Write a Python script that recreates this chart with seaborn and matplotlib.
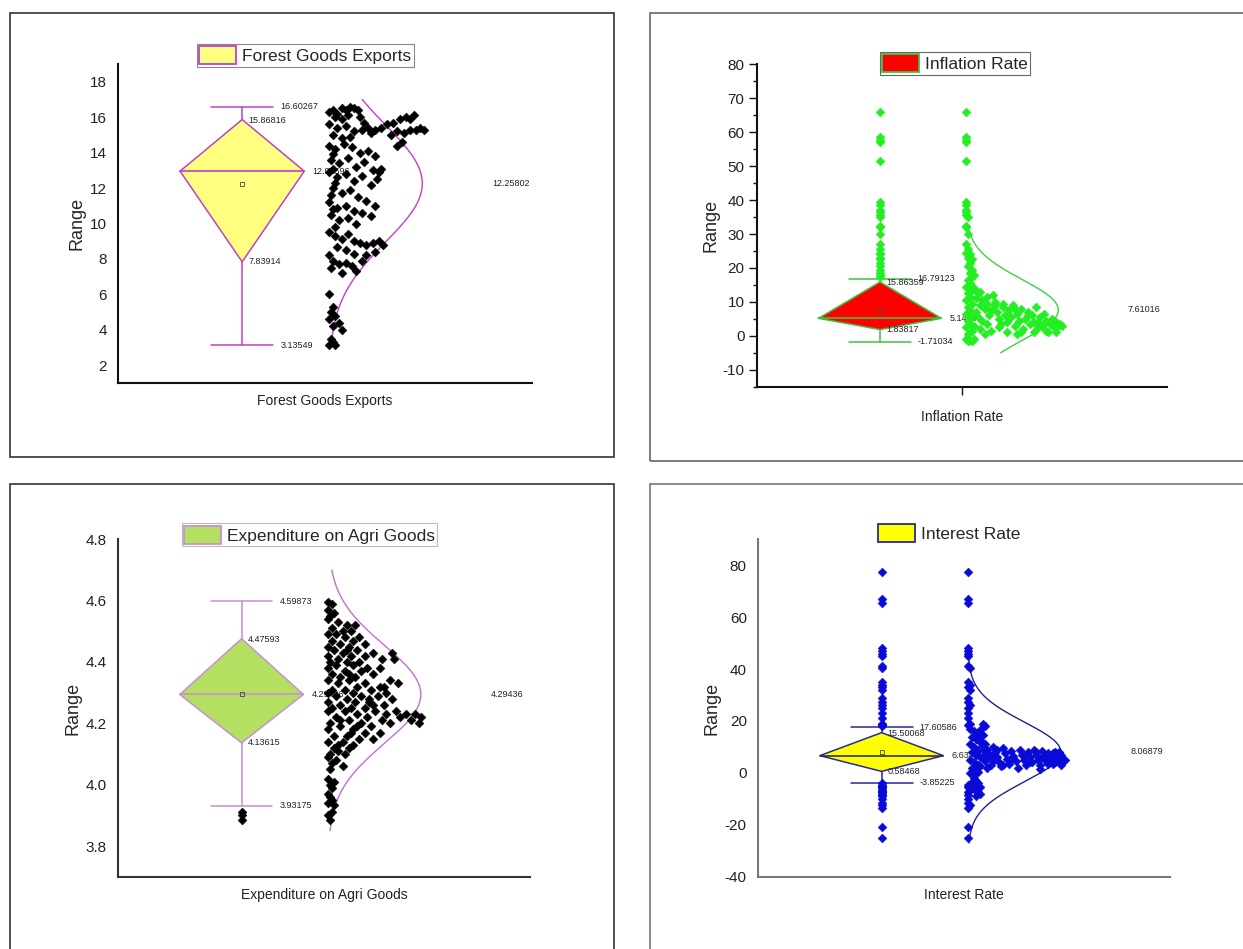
import numpy as np
import pandas as pd
import matplotlib.pyplot as plt
from matplotlib.patches import Patch, Rectangle
from matplotlib.ticker import MultipleLocator, FormatStrFormatter
import seaborn as sns

sns.set_theme(style="white")
plt.rcParams["font.family"] = ["Liberation Sans", "DejaVu Sans"]

# =========================================================
# Data
# =========================================================
names = ["Forest Goods Exports", "Inflation Rate", "Expenditure on Agri Goods", "Interest Rate"]

# lower whisker, Q1, median, Q3, upper whisker
forest_box = [3.13549, 7.83914, 12.95596, 15.86816, 16.60267]
inflation_box = [-1.71034, 1.83817, 5.14437, 15.86359, 16.79123]
agri_box = [3.93175, 4.13615, 4.29406, 4.47593, 4.59873]
interest_box = [-3.85225, 0.58468, 6.63427, 15.50068, 17.60586]

means = [12.25802, 7.61016, 4.29436, 8.06879]
sds = [3.3, 9.0, 0.16, 11.5]
curve_lo = [3.1, -5.0, 3.85, -27.0]
curve_hi = [17.0, 31.5, 4.70, 43.5]

# data points: value and horizontal spread of each point in the cloud
forest_vals = [
    16.3, 16.4, 16.2, 16.5, 16.4, 16.6, 16.5, 16.4, 16.0, 15.9, 16.1, 16.0, 15.7, 15.6, 15.4, 15.5, 15.2, 15.0, 14.8, 14.9, 15.3, 15.4,
    15.1, 15.3, 15.4, 15.6, 15.7, 15.9, 16.0, 15.9, 16.1,
    15.0, 15.2, 15.1, 15.3, 15.3, 15.4, 15.3, 14.6, 14.4,
    14.4, 14.2, 14.5, 14.3, 14.0, 14.1, 13.8, 13.6, 13.4, 13.7, 13.2, 13.5, 13.0, 12.9, 12.6, 12.8, 12.4, 12.7, 12.2,
    12.0, 11.7, 11.9, 11.5, 11.3, 11.0, 11.2, 10.9, 11.0, 10.7, 10.6, 10.4, 10.5, 10.2, 10.3, 10.0,
    9.5, 9.3, 9.1, 9.4, 9.0, 8.9, 8.8, 8.9, 9.0, 8.8, 8.7, 8.5, 8.3, 8.2, 8.4,
    8.2, 7.9, 7.7, 7.8, 7.6, 7.3, 7.5, 7.2, 7.9,
    6.0, 5.3, 5.0, 4.8, 4.6, 4.4, 4.2, 4.0, 3.5, 3.3, 3.16, 3.14,
    13.9, 13.1, 12.3, 11.6, 10.8, 9.8, 12.9, 13.1, 12.5,
]
forest_spread = [
    0.00, 0.02, 0.04, 0.06, 0.08, 0.10, 0.12, 0.14, 0.03, 0.06, 0.09, 0.15, 0.17, 0.00, 0.04, 0.08, 0.12, 0.02, 0.06, 0.10, 0.16, 0.19,
    0.20, 0.22, 0.25, 0.28, 0.31, 0.34, 0.37, 0.39, 0.41,
    0.30, 0.33, 0.36, 0.39, 0.42, 0.44, 0.46, 0.35, 0.33,
    0.00, 0.03, 0.07, 0.11, 0.15, 0.19, 0.22, 0.01, 0.05, 0.09, 0.13, 0.17, 0.21, 0.00, 0.04, 0.08, 0.12, 0.16, 0.20,
    0.02, 0.06, 0.10, 0.14, 0.18, 0.22, 0.00, 0.04, 0.08, 0.12, 0.16, 0.20, 0.01, 0.05, 0.09, 0.13,
    0.00, 0.03, 0.06, 0.09, 0.12, 0.15, 0.18, 0.21, 0.24, 0.26, 0.04, 0.08, 0.12, 0.18, 0.22,
    0.00, 0.02, 0.05, 0.08, 0.11, 0.13, 0.01, 0.06, 0.16,
    0.00, 0.02, 0.01, 0.03, 0.00, 0.05, 0.02, 0.06, 0.01, 0.02, 0.00, 0.03,
    0.02, 0.02, 0.03, 0.01, 0.02, 0.03, 0.24, 0.25, 0.23,
]

inflation_vals = [
    66.0, 58.5, 57.8, 57.0, 51.5, 39.5, 38.5, 37.0, 36.5, 35.5, 35.0, 32.5, 32.0, 30.0, 27.0, 25.5, 24.5, 24.0, 23.0, 22.5, 21.5, 20.5, 19.5, 18.5, 17.8, 17.2,
    16.5, 15.5, 14.5, 13.5, 12.5, 11.5, 10.5, 9.5, 8.5, 7.5, 6.5, 5.5, 4.5, 3.5, 2.5, 1.5, 0.5, -0.8, -1.2, -1.5, -1.0, -1.6,
    14.0, 12.5, 11.0, 10.5, 9.0, 9.5, 8.0, 7.5, 7.0, 6.0, 5.5, 4.5, 3.5, 3.0, 2.0, 1.5, 0.5,
    12.0, 9.0, 7.0, 5.0, 3.5, 8.5, 6.0, 4.0, 7.5, 5.5, 9.0, 3.0, 6.5, 4.5, 8.0, 2.0, 5.0, 7.0, 3.5, 6.0,
    4.0, 8.5, 2.5, 5.5, 3.0, 6.5, 4.5, 1.0, 3.5, 5.0, 2.5, 4.0, 3.0, 3.5, 2.8, 1.0, 1.5, 1.0, 1.2,
    10.0, 11.5, 13.0, 2.5, 1.0, 8.0, 6.0, 9.5, 4.0, 0.5,
]
inflation_spread = [
    0.00, 0.00, 0.00, 0.00, 0.00, 0.00, 0.00, 0.00, 0.00, 0.00, 0.01, 0.00, 0.00, 0.01, 0.00, 0.01, 0.00, 0.02, 0.01, 0.03, 0.02, 0.01, 0.03, 0.02, 0.04, 0.03,
    0.01, 0.02, 0.00, 0.03, 0.01, 0.02, 0.00, 0.03, 0.01, 0.02, 0.00, 0.03, 0.01, 0.02, 0.00, 0.03, 0.01, 0.00, 0.02, 0.03, 0.04, 0.01,
    0.04, 0.06, 0.05, 0.08, 0.07, 0.10, 0.09, 0.12, 0.05, 0.11, 0.06, 0.08, 0.10, 0.04, 0.07, 0.12, 0.09,
    0.13, 0.14, 0.15, 0.16, 0.17, 0.18, 0.19, 0.20, 0.21, 0.22, 0.23, 0.24, 0.25, 0.26, 0.27, 0.28, 0.29, 0.30, 0.31, 0.32,
    0.33, 0.34, 0.35, 0.36, 0.37, 0.38, 0.39, 0.40, 0.41, 0.42, 0.43, 0.44, 0.45, 0.46, 0.47, 0.44, 0.39, 0.33, 0.27,
    0.14, 0.10, 0.07, 0.16, 0.20, 0.24, 0.30, 0.18, 0.35, 0.25,
]

agri_vals = [
    4.595, 4.59, 4.57, 4.56, 4.55,
    4.54, 4.53, 4.52, 4.52, 4.51, 4.50, 4.50,
    4.49, 4.49, 4.48, 4.48, 4.47, 4.47, 4.46, 4.46, 4.45, 4.45,
    4.44, 4.44, 4.43, 4.43, 4.43, 4.42, 4.42, 4.42, 4.41, 4.41, 4.41, 4.40, 4.40, 4.40,
    4.39, 4.39, 4.38, 4.38, 4.37, 4.37, 4.36, 4.36, 4.35, 4.35,
    4.34, 4.34, 4.34, 4.33, 4.33, 4.33, 4.32, 4.32, 4.31, 4.31, 4.31, 4.30, 4.30, 4.30,
    4.29, 4.29, 4.29, 4.28, 4.28, 4.27, 4.27, 4.27, 4.26, 4.26, 4.25, 4.25, 4.25,
    4.24, 4.24, 4.24, 4.24, 4.23, 4.23, 4.23, 4.23, 4.22, 4.22, 4.22, 4.22, 4.21, 4.21, 4.21, 4.20, 4.20, 4.20, 4.20,
    4.19, 4.19, 4.18, 4.18, 4.17, 4.17, 4.16, 4.16, 4.15, 4.15,
    4.14, 4.14, 4.13, 4.12, 4.12, 4.11, 4.10, 4.10,
    4.09, 4.08, 4.07, 4.06, 4.05,
    4.02, 4.01, 4.00, 3.99,
    3.97, 3.96, 3.95, 3.94, 3.935, 3.91, 3.90, 3.885,
    4.44, 4.38, 4.32, 4.26, 4.21, 4.17, 4.13, 4.36, 4.28, 4.19,
]
agri_spread = [
    0.00, 0.02, 0.00, 0.03, 0.01,
    0.00, 0.05, 0.09, 0.13, 0.02, 0.07, 0.11,
    0.00, 0.04, 0.08, 0.15, 0.02, 0.12, 0.06, 0.18, 0.00, 0.10,
    0.03, 0.14, 0.07, 0.22, 0.31, 0.00, 0.11, 0.18, 0.05, 0.26, 0.32, 0.09, 0.15, 0.01,
    0.04, 0.12, 0.19, 0.00, 0.08, 0.16, 0.02, 0.22, 0.06, 0.13,
    0.00, 0.10, 0.30, 0.05, 0.18, 0.34, 0.14, 0.25, 0.02, 0.08, 0.21, 0.28, 0.12, 0.00,
    0.04, 0.16, 0.24, 0.09, 0.31, 0.00, 0.13, 0.20, 0.06, 0.27, 0.11, 0.02, 0.18,
    0.00, 0.08, 0.23, 0.33, 0.14, 0.28, 0.38, 0.42, 0.04, 0.19, 0.35, 0.45, 0.10, 0.26, 0.40, 0.01, 0.16, 0.30, 0.44,
    0.06, 0.21, 0.00, 0.12, 0.18, 0.25, 0.03, 0.09, 0.15, 0.22,
    0.00, 0.07, 0.12, 0.03, 0.10, 0.05, 0.01, 0.08,
    0.00, 0.04, 0.02, 0.07, 0.01,
    0.00, 0.03, 0.01, 0.02,
    0.00, 0.01, 0.02, 0.00, 0.03, 0.02, 0.00, 0.01,
    0.09, 0.25, 0.27, 0.22, 0.06, 0.11, 0.05, 0.10, 0.20, 0.14,
]

interest_vals = [
    77.5, 67.0, 65.5, 48.0, 47.0, 46.0, 45.0, 41.0, 40.5, 35.0, 34.0, 33.0, 32.0, 29.0, 27.5, 26.0, 25.0, 23.0, 21.0, 19.0, 18.5,
    -4.5, -5.5, -6.5, -7.5, -8.5, -10.0, -11.5, -12.5, -13.5, -21.0, -25.0,
    -2.0, -3.0, -4.0, -5.0, -6.0, -7.0, -8.0, -9.0, -3.5, -5.5, -7.5,
    17.0, 16.0, 15.0, 14.0, 13.0, 12.0, 11.0, 10.0, 9.0, 8.0, 7.0, 6.0, 5.0, 4.0, 3.0, 2.0, 1.0, 0.0, -1.0,
    16.5, 14.5, 12.5, 10.5, 8.5, 6.5, 4.5, 2.5, 0.5, 19.0, 18.0,
    11.0, 9.0, 7.0, 5.0, 3.0, 2.0, 10.0, 8.0, 6.0, 4.0, 2.5, 9.5, 7.5, 5.5, 3.5, 8.5, 6.5, 4.5, 2.0, 9.0,
    7.0, 5.0, 3.0, 8.0, 6.0, 4.0, 9.0, 7.0, 5.0, 3.0, 8.5, 6.5, 4.5, 7.5, 5.5, 3.5, 8.0, 6.0, 4.0, 1.5,
    7.0, 5.0, 3.0, 8.0, 6.0, 4.0, 7.5, 5.5, 3.5, 9.0, 6.5, 4.5, 7.0, 5.0, 3.0, 8.0, 6.0, 4.0, 5.0, 4.5,
]
interest_spread = [
    0.00, 0.00, 0.00, 0.00, 0.00, 0.00, 0.00, 0.00, 0.01, 0.00, 0.01, 0.00, 0.01, 0.00, 0.00, 0.01, 0.00, 0.00, 0.00, 0.01, 0.00,
    0.00, 0.00, 0.01, 0.00, 0.00, 0.00, 0.00, 0.01, 0.00, 0.00, 0.00,
    0.03, 0.04, 0.05, 0.03, 0.05, 0.04, 0.06, 0.04, 0.02, 0.06, 0.05,
    0.01, 0.03, 0.05, 0.02, 0.04, 0.06, 0.01, 0.03, 0.05, 0.02, 0.04, 0.06, 0.01, 0.03, 0.05, 0.02, 0.04, 0.01, 0.03,
    0.06, 0.07, 0.06, 0.07, 0.08, 0.07, 0.08, 0.06, 0.05, 0.07, 0.08,
    0.08, 0.09, 0.10, 0.08, 0.11, 0.09, 0.12, 0.13, 0.14, 0.15, 0.16, 0.17, 0.18, 0.19, 0.20, 0.21, 0.22, 0.23, 0.24, 0.25,
    0.26, 0.27, 0.28, 0.29, 0.30, 0.31, 0.32, 0.33, 0.34, 0.35, 0.36, 0.37, 0.38, 0.39, 0.40, 0.41, 0.42, 0.43, 0.44, 0.35,
    0.45, 0.46, 0.45, 0.44, 0.43, 0.42, 0.41, 0.40, 0.39, 0.14, 0.11, 0.12, 0.27, 0.21, 0.17, 0.33, 0.36, 0.30, 0.47, 0.46,
]

# =========================================================
# Styles
# =========================================================
fills = ["#FFFF80", "#FF0000", "#B3E060", "#FFFF00"]
edges = ["#C040C8", "#40C040", "#C890D0", "#2828A0"]
median_colors = ["#C040C8", "#40C040", "#C890D0", "#303030"]
point_colors = ["#000000", "#22EE22", "#000000", "#0A0AD8"]
curve_colors = ["#C040C8", "#40D040", "#C070D0", "#202090"]
spine_colors = ["#111111", "#111111", "#333333", "#777777"]
legend_frames = ["#888888", "#666666", "#BBBBBB", "none"]

ylims = [(1, 19), (-15, 80), (3.7, 4.8), (-40, 90)]
ysteps = [2, 10, 0.2, 20]
ystarts = [2, -10, 3.8, -40]
yends = [18, 80, 4.8, 80]

# axes rectangles (figure fraction) and legend anchors (axes fraction)
axes_pos = [
    [0.0949, 0.5964, 0.3331, 0.3361],
    [0.6090, 0.5925, 0.3298, 0.3397],
    [0.0949, 0.0762, 0.3315, 0.3555],
    [0.6098, 0.0762, 0.3315, 0.3555],
]
legend_pos = [(0.452, 1.028), (0.483, 1.003), (0.465, 1.013), (0.464, 1.019)]
frames = [
    (0.008, 0.5184, 0.486, 0.4682, "#333333"),
    (0.523, 0.5142, 0.500, 0.4724, "#666666"),
    (0.008, -0.05, 0.486, 0.540, "#333333"),
    (0.523, -0.05, 0.500, 0.540, "#777777"),
]

box_x = -0.4
half_w = 0.30
cap_w = 0.15
cloud_base = 0.02
curve_amp = 0.45
mean_text_x = 0.81
point_size = 20


def draw_panel(ax, i, vals, spread, box):
    lo, q1, med, q3, hi = box
    edge = edges[i]

    # diamond box
    ax.fill([box_x, box_x + half_w, box_x, box_x - half_w], [q1, med, q3, med],
            facecolor=fills[i], edgecolor=edge, lw=1.1, zorder=3)
    ax.plot([box_x - half_w, box_x + half_w], [med, med], color=median_colors[i], lw=1.2, zorder=4)
    ax.plot([box_x, box_x], [lo, q1], color=edge, lw=1.1, zorder=2)
    ax.plot([box_x, box_x], [q3, hi], color=edge, lw=1.1, zorder=2)
    ax.plot([box_x - cap_w, box_x + cap_w], [lo, lo], color=edge, lw=1.1, zorder=2)
    ax.plot([box_x - cap_w, box_x + cap_w], [hi, hi], color=edge, lw=1.1, zorder=2)
    ax.plot(box_x, means[i], marker="s", ms=3.2, mfc="none", mec="#444444", mew=0.6, zorder=5)

    # points
    df = pd.DataFrame({"value": vals, "spread": spread})
    df["x"] = cloud_base + df["spread"]
    out = df[(df["value"] < lo) | (df["value"] > hi)].copy()
    out["x"] = box_x
    sns.scatterplot(data=out, x="x", y="value", ax=ax, marker="D", s=point_size,
                    color=point_colors[i], edgecolor=point_colors[i], linewidth=0.4, zorder=6)
    sns.scatterplot(data=df, x="x", y="value", ax=ax, marker="D", s=point_size,
                    color=point_colors[i], edgecolor=point_colors[i], linewidth=0.4, zorder=6)

    # normal curve
    yy = np.linspace(curve_lo[i], curve_hi[i], 300)
    xx = cloud_base + curve_amp * np.exp(-0.5 * ((yy - means[i]) / sds[i]) ** 2)
    ax.plot(xx, yy, color=curve_colors[i], lw=1.0, zorder=4)

    # value labels
    kw = dict(textcoords="offset pixels", fontsize=6.5, va="center", ha="left", color="#222222", zorder=5)
    ax.annotate(f"{hi:.5f}", (box_x + cap_w, hi), xytext=(7, 0), **kw)
    ax.annotate(f"{q3:.5f}", (box_x, q3), xytext=(6, -1), **kw)
    ax.annotate(f"{med:.5f}", (box_x + half_w, med), xytext=(8, 0), **kw)
    ax.annotate(f"{q1:.5f}", (box_x, q1), xytext=(6, 0), **kw)
    ax.annotate(f"{lo:.5f}", (box_x + cap_w, lo), xytext=(7, 0), **kw)
    ax.text(mean_text_x, means[i], f"{means[i]:.5f}", fontsize=6.5, va="center", ha="left", color="#222222")

    # axes
    ax.set_xlim(-1, 1)
    ax.set_ylim(*ylims[i])
    ax.set_yticks(np.arange(ystarts[i], yends[i] + ysteps[i] / 2, ysteps[i]))
    if i == 2:
        ax.yaxis.set_major_formatter(FormatStrFormatter("%.1f"))
    else:
        ax.yaxis.set_major_formatter(FormatStrFormatter("%d"))
    sns.despine(ax=ax)
    for s in ["left", "bottom"]:
        ax.spines[s].set_color(spine_colors[i])
        ax.spines[s].set_linewidth(1.5)
    if i == 1:
        ax.set_xticks([0])
        ax.set_xticklabels([""])
        ax.yaxis.set_minor_locator(MultipleLocator(5))
        ax.tick_params(axis="both", which="major", direction="out", length=6, width=1.0,
                       color="#111111", left=True, bottom=True, labelsize=11, pad=3, labelcolor="#222222")
        ax.tick_params(axis="y", which="minor", direction="out", length=3, width=1.0, color="#111111", left=True)
        ax.set_ylabel("Range", fontsize=13, labelpad=2)
    else:
        ax.set_xticks([])
        ax.tick_params(axis="y", length=0, labelsize=11, pad=8, labelcolor="#222222")
        ax.set_ylabel("Range", fontsize=13, labelpad=3)
    ax.set_xlabel(names[i], fontsize=10, labelpad=8, color="#222222")

    handle = Patch(facecolor=fills[i], edgecolor=edge, lw=1.3, label=names[i])
    leg = ax.legend(handles=[handle], loc="center", bbox_to_anchor=legend_pos[i], fontsize=12.5,
                    handlelength=2.1, handleheight=1.2, borderpad=0.15, handletextpad=0.35,
                    fancybox=False, framealpha=1, borderaxespad=0)
    if legend_frames[i] == "none":
        leg.get_frame().set_linewidth(0)
    else:
        leg.get_frame().set_edgecolor(legend_frames[i])
        leg.get_frame().set_linewidth(0.8)
    leg.set_zorder(10)


fig = plt.figure(figsize=(12.43, 9.49), dpi=100)
for x0, y0, w, h, col in frames:
    fig.add_artist(Rectangle((x0, y0), w, h, transform=fig.transFigure, fill=False,
                             edgecolor=col, lw=1.2))

panel_vals = [forest_vals, inflation_vals, agri_vals, interest_vals]
panel_spread = [forest_spread, inflation_spread, agri_spread, interest_spread]
panel_box = [forest_box, inflation_box, agri_box, interest_box]

for i in range(4):
    ax = fig.add_axes(axes_pos[i])
    ax.patch.set_alpha(0)
    draw_panel(ax, i, panel_vals[i], panel_spread[i], panel_box[i])

fig.savefig("out.png", dpi=100)
